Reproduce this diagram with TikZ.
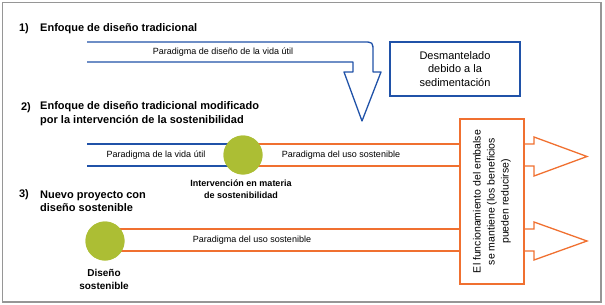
\documentclass[tikz,border=0pt]{standalone}
\usepackage{fontspec}
\setmainfont{Liberation Sans}
\definecolor{myblue}{RGB}{32,82,168}
\definecolor{myorange}{RGB}{240,112,48}
\definecolor{mygreen}{RGB}{172,190,52}
\definecolor{myframe}{RGB}{150,150,150}
\begin{document}
\begin{tikzpicture}[x=1pt,y=-1pt,
  blueline/.style={draw=myblue,line width=1.3pt,line join=round},
  orangeline/.style={draw=myorange,line width=1.3pt,line join=miter},
  title/.style={font=\fontsize{11}{13.5}\selectfont\bfseries,anchor=west,align=left,inner sep=0pt},
  num/.style={font=\fontsize{11}{13}\selectfont\bfseries,inner sep=0pt},
  small/.style={font=\fontsize{9}{11}\selectfont,inner sep=0pt},
  circlabel/.style={font=\fontsize{9}{12}\selectfont\bfseries,align=center,inner sep=0pt},
  greendot/.style={circle,fill=mygreen,draw=none,minimum size=39pt,inner sep=0pt}]
\useasboundingbox (0,0) rectangle (605,305);
\draw[myframe,line width=1.2pt] (2.5,2.5) rectangle (601,302);

% Section 1
\node[num] (n1) at (24,29) {1)};
\node[title] (t1) at (40,29) {Enfoque de diseño tradicional};
\draw[blueline] (87,42) -- (363,42) .. controls (373,42) .. (373,52) -- (373,72) -- (381,72)
   -- (362,121) -- (344,72) -- (353,72) -- (353,62) -- (87,62);
\node[small] (p1) at (223,52) {Paradigma de diseño de la vida útil};
\node[draw=myblue,line width=1.3pt,minimum width=130pt,minimum height=54pt,align=center,
      font=\fontsize{11}{13.5}\selectfont,inner sep=0pt] (desm) at (455,69)
      {Desmantelado\\debido a la\\sedimentación};

% Section 2
\node[num] (n2) at (26,108) {2)};
\node[title] (t2) at (40,113.5) {Enfoque de diseño tradicional modificado\\por la intervención de la sostenibilidad};
\node[greendot] (c2) at (243,155) {};
\node[draw=myorange,line width=1.3pt,minimum width=64pt,minimum height=165pt,inner sep=0pt] (box) at (492,201.5) {};
\coordinate (s2a) at (87,144);
\coordinate (s2b) at (87,166);
\draw[blueline] (s2a) -- (s2a -| c2.center);
\draw[blueline] (s2b) -- (s2b -| c2.center);
\draw[orangeline] (s2a -| c2.center) -- (s2a -| box.west);
\draw[orangeline] (s2b -| c2.center) -- (s2b -| box.west);
\node[greendot] at (c2) {};
\node[small] (p2a) at (156,155) {Paradigma de la vida útil};
\node[small] (p2b) at (341,155) {Paradigma del uso sostenible};
\node[circlabel] (l2) at (241,189.5) {Intervención en materia\\de sostenibilidad};
\draw[orangeline] (box.east |- s2a) -- (534,144) -- (534,137) -- (587,156.5) -- (534,176) -- (534,166) -- (box.east |- s2b);

% Section 3
\node[num] (n3) at (24,195) {3)};
\node[title] (t3) at (40,201.5) {Nuevo proyecto con\\diseño sostenible};
\node[greendot] (c3) at (105,241) {};
\coordinate (s3a) at (105,229);
\coordinate (s3b) at (105,251);
\draw[orangeline] (s3a) -- (s3a -| box.west);
\draw[orangeline] (s3b) -- (s3b -| box.west);
\node[greendot] at (c3) {};
\node[small] (p3) at (252,240) {Paradigma del uso sostenible};
\node[circlabel,font=\fontsize{10}{13}\selectfont\bfseries] (l3) at (104,279.5) {Diseño\\sostenible};
\draw[orangeline] (box.east |- s3a) -- (534,229) -- (534,222) -- (587,241) -- (534,260) -- (534,251) -- (box.east |- s3b);

\node[rotate=90,align=center,font=\fontsize{10.5}{14}\selectfont,inner sep=0pt] (boxtext) at (box.center)
  {El funcionamiento del embalse\\se mantiene (los beneficios\\pueden reducirse)};
\end{tikzpicture}
\end{document}
